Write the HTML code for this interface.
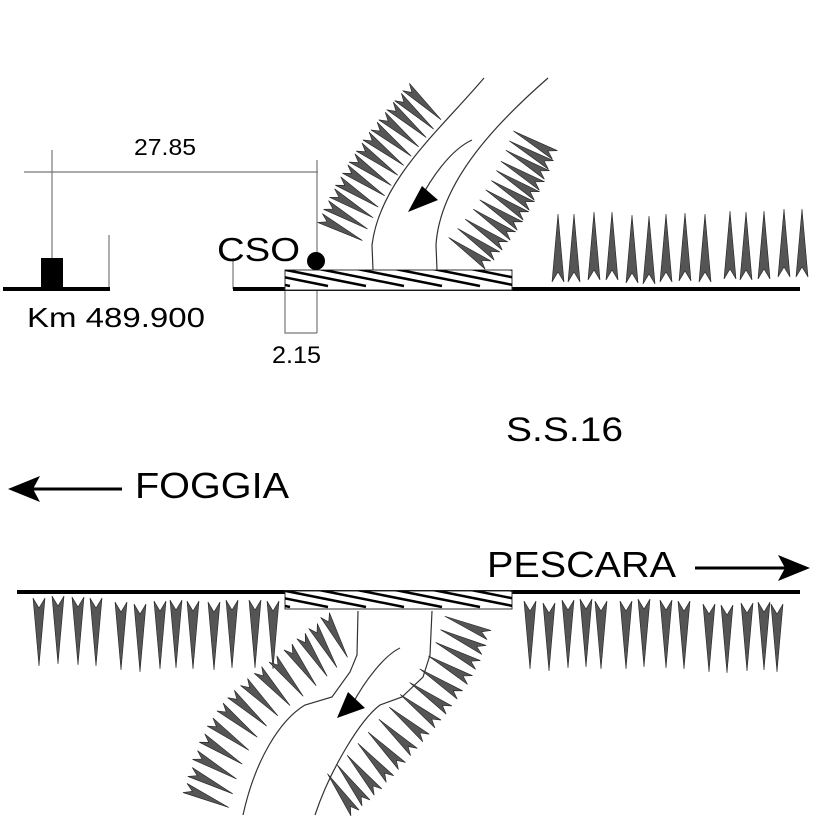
<!DOCTYPE html>
<html><head><meta charset="utf-8"><style>
html,body{margin:0;padding:0;background:#fff;}
svg{display:block;}
text{font-family:"Liberation Sans",sans-serif;fill:#000;}
</style></head><body>
<svg width="827" height="827" viewBox="0 0 827 827" xmlns="http://www.w3.org/2000/svg">
<defs>
<path id="sv" d="M-6,0 L0,-68 L6,0 L0,-10 Z" fill="#555" stroke="#222" stroke-width="0.6"/>
<path id="sd" d="M0,-5 L48,0 L0,5 L8,0 Z" fill="#555" stroke="#222" stroke-width="0.6"/>
<clipPath id="c1"><rect x="285" y="270" width="227" height="20"/></clipPath>
<clipPath id="c2"><rect x="285" y="591" width="227" height="18"/></clipPath>
</defs>

<g stroke="#777" stroke-width="1.2" fill="none">
<line x1="24" y1="172" x2="318" y2="172"/>
<line x1="52" y1="150" x2="52" y2="258"/>
<line x1="317" y1="160" x2="317" y2="333"/>
<line x1="109" y1="235" x2="109" y2="289"/>
<line x1="233" y1="258" x2="233" y2="289"/>
<polyline points="285,290 285,333 317,333"/>
</g>
<rect x="41" y="258" width="22" height="31" fill="#000"/>
<line x1="3" y1="289" x2="110" y2="289" stroke="#000" stroke-width="4"/>
<line x1="233" y1="289" x2="800" y2="289" stroke="#000" stroke-width="4"/>

<rect x="285" y="270" width="227" height="20" fill="#fff" stroke="#333" stroke-width="1"/>
<g clip-path="url(#c1)" stroke="#000" stroke-width="2.5">
<line x1="170" y1="262" x2="290" y2="286"/><line x1="208" y1="262" x2="328" y2="286"/>
<line x1="246" y1="262" x2="366" y2="286"/><line x1="284" y1="262" x2="404" y2="286"/>
<line x1="322" y1="262" x2="442" y2="286"/><line x1="360" y1="262" x2="480" y2="286"/>
<line x1="398" y1="262" x2="518" y2="286"/><line x1="436" y1="262" x2="556" y2="286"/>
<line x1="474" y1="262" x2="594" y2="286"/>
</g>
<circle cx="316" cy="261" r="9" fill="#000"/>

<g stroke="#333" stroke-width="1.2" fill="none">
<path d="M484,78 C440,130 380,180 372,245 L373,270"/>
<path d="M548,78 C500,120 440,180 436,245 L437,270"/>
<path d="M472,140 C450,150 430,180 420,200"/>
</g>
<path d="M408,212 L422,186 L438,200 Z" fill="#000"/>

<g>
<use href="#sd" transform="translate(320,218) rotate(28)"/>
<use href="#sd" transform="translate(326,205) rotate(30)"/>
<use href="#sd" transform="translate(332,193) rotate(31)"/>
<use href="#sd" transform="translate(338,181) rotate(33)"/>
<use href="#sd" transform="translate(345,169) rotate(34)"/>
<use href="#sd" transform="translate(352,158) rotate(35)"/>
<use href="#sd" transform="translate(359,147) rotate(36)"/>
<use href="#sd" transform="translate(366,136) rotate(38)"/>
<use href="#sd" transform="translate(374,126) rotate(39)"/>
<use href="#sd" transform="translate(382,116) rotate(40)"/>
<use href="#sd" transform="translate(390,106) rotate(41)"/>
<use href="#sd" transform="translate(398,97) rotate(42)"/>
<use href="#sd" transform="translate(406,87) rotate(43)"/>
<use href="#sd" transform="translate(555,155) rotate(210)"/>
<use href="#sd" transform="translate(551,165) rotate(210)"/>
<use href="#sd" transform="translate(547,175) rotate(211)"/>
<use href="#sd" transform="translate(542,186) rotate(211)"/>
<use href="#sd" transform="translate(537,196) rotate(212)"/>
<use href="#sd" transform="translate(532,206) rotate(212)"/>
<use href="#sd" transform="translate(526,216) rotate(213)"/>
<use href="#sd" transform="translate(520,226) rotate(213)"/>
<use href="#sd" transform="translate(513,236) rotate(214)"/>
<use href="#sd" transform="translate(505,246) rotate(214)"/>
<use href="#sd" transform="translate(497,256) rotate(215)"/>
<use href="#sd" transform="translate(488,265) rotate(215)"/>
</g>

<g>
<use href="#sv" x="558" y="282"/><use href="#sv" x="574" y="282"/><use href="#sv" x="594" y="280"/>
<use href="#sv" x="612" y="280"/><use href="#sv" x="632" y="283"/><use href="#sv" x="649" y="284"/>
<use href="#sv" x="666" y="282"/><use href="#sv" x="685" y="281"/><use href="#sv" x="705" y="282"/>
<use href="#sv" x="730" y="279"/><use href="#sv" x="746" y="280"/><use href="#sv" x="764" y="279"/>
<use href="#sv" x="784" y="277"/><use href="#sv" x="802" y="277"/>
</g>

<text x="134" y="155" font-size="23" textLength="62" lengthAdjust="spacingAndGlyphs">27.85</text>
<text x="217" y="261" font-size="33" textLength="83" lengthAdjust="spacingAndGlyphs">CSO</text>
<text x="27" y="327" font-size="28" textLength="178" lengthAdjust="spacingAndGlyphs">Km 489.900</text>
<text x="272" y="363" font-size="24" textLength="49" lengthAdjust="spacingAndGlyphs">2.15</text>
<text x="506" y="441" font-size="34" textLength="117" lengthAdjust="spacingAndGlyphs">S.S.16</text>
<text x="135" y="498" font-size="36" textLength="154" lengthAdjust="spacingAndGlyphs">FOGGIA</text>
<text x="487" y="577" font-size="36" textLength="189" lengthAdjust="spacingAndGlyphs">PESCARA</text>

<line x1="30" y1="489" x2="122" y2="489" stroke="#000" stroke-width="3"/>
<path d="M8,489 L40,476 L33,489 L40,502 Z" fill="#000"/>
<line x1="695" y1="568" x2="790" y2="568" stroke="#000" stroke-width="3"/>
<path d="M810,568 L778,555 L785,568 L778,581 Z" fill="#000"/>

<line x1="17" y1="592" x2="800" y2="592" stroke="#000" stroke-width="4"/>
<rect x="285" y="591" width="227" height="18" fill="#fff" stroke="#333" stroke-width="1"/>
<g clip-path="url(#c2)" stroke="#000" stroke-width="2.5">
<line x1="170" y1="583" x2="290" y2="607"/><line x1="208" y1="583" x2="328" y2="607"/>
<line x1="246" y1="583" x2="366" y2="607"/><line x1="284" y1="583" x2="404" y2="607"/>
<line x1="322" y1="583" x2="442" y2="607"/><line x1="360" y1="583" x2="480" y2="607"/>
<line x1="398" y1="583" x2="518" y2="607"/><line x1="436" y1="583" x2="556" y2="607"/>
<line x1="474" y1="583" x2="594" y2="607"/>
</g>

<g>
<use href="#sv" transform="translate(39,598) scale(1,-1)"/><use href="#sv" transform="translate(58,596) scale(1,-1)"/>
<use href="#sv" transform="translate(78,597) scale(1,-1)"/><use href="#sv" transform="translate(96,598) scale(1,-1)"/>
<use href="#sv" transform="translate(121,602) scale(1,-1)"/><use href="#sv" transform="translate(140,604) scale(1,-1)"/>
<use href="#sv" transform="translate(160,601) scale(1,-1)"/><use href="#sv" transform="translate(176,600) scale(1,-1)"/>
<use href="#sv" transform="translate(193,601) scale(1,-1)"/><use href="#sv" transform="translate(214,602) scale(1,-1)"/>
<use href="#sv" transform="translate(232,600) scale(1,-1)"/><use href="#sv" transform="translate(255,600) scale(1,-1)"/>
<use href="#sv" transform="translate(273,601) scale(1,-1)"/>
<use href="#sv" transform="translate(530,601) scale(1,-1)"/><use href="#sv" transform="translate(549,603) scale(1,-1)"/>
<use href="#sv" transform="translate(568,600) scale(1,-1)"/><use href="#sv" transform="translate(586,599) scale(1,-1)"/>
<use href="#sv" transform="translate(601,601) scale(1,-1)"/><use href="#sv" transform="translate(626,601) scale(1,-1)"/>
<use href="#sv" transform="translate(644,599) scale(1,-1)"/><use href="#sv" transform="translate(666,600) scale(1,-1)"/>
<use href="#sv" transform="translate(684,601) scale(1,-1)"/><use href="#sv" transform="translate(709,604) scale(1,-1)"/>
<use href="#sv" transform="translate(727,605) scale(1,-1)"/><use href="#sv" transform="translate(747,603) scale(1,-1)"/>
<use href="#sv" transform="translate(764,602) scale(1,-1)"/><use href="#sv" transform="translate(777,604) scale(1,-1)"/>
</g>

<g stroke="#333" stroke-width="1.2" fill="none">
<path d="M358,611 L357,655 L350,672 L332,697 L305,705 C280,720 255,760 243,815"/>
<path d="M432,611 L430,655 L423,677 L402,697 L380,705 C360,720 330,770 315,815"/>
<path d="M400,648 C385,655 365,680 352,705"/>
</g>
<path d="M337,718 L348,692 L365,708 Z" fill="#000"/>

<g>
<use href="#sd" transform="translate(185,788) rotate(24)"/>
<use href="#sd" transform="translate(190,772) rotate(27)"/>
<use href="#sd" transform="translate(195,755) rotate(30)"/>
<use href="#sd" transform="translate(202,738) rotate(33)"/>
<use href="#sd" transform="translate(210,722) rotate(36)"/>
<use href="#sd" transform="translate(220,707) rotate(39)"/>
<use href="#sd" transform="translate(231,694) rotate(42)"/>
<use href="#sd" transform="translate(244,682) rotate(45)"/>
<use href="#sd" transform="translate(258,670) rotate(48)"/>
<use href="#sd" transform="translate(273,659) rotate(51)"/>
<use href="#sd" transform="translate(288,647) rotate(54)"/>
<use href="#sd" transform="translate(301,636) rotate(57)"/>
<use href="#sd" transform="translate(313,626) rotate(60)"/>
<use href="#sd" transform="translate(325,615) rotate(62)"/>
<use href="#sd" transform="translate(489,635) rotate(203)"/>
<use href="#sd" transform="translate(484,650) rotate(205)"/>
<use href="#sd" transform="translate(478,665) rotate(208)"/>
<use href="#sd" transform="translate(470,680) rotate(210)"/>
<use href="#sd" transform="translate(460,695) rotate(213)"/>
<use href="#sd" transform="translate(449,710) rotate(215)"/>
<use href="#sd" transform="translate(438,724) rotate(218)"/>
<use href="#sd" transform="translate(426,738) rotate(220)"/>
<use href="#sd" transform="translate(414,752) rotate(223)"/>
<use href="#sd" transform="translate(402,766) rotate(225)"/>
<use href="#sd" transform="translate(390,779) rotate(228)"/>
<use href="#sd" transform="translate(378,792) rotate(230)"/>
<use href="#sd" transform="translate(366,803) rotate(233)"/>
<use href="#sd" transform="translate(355,813) rotate(235)"/>
</g>
</svg>
</body></html>
